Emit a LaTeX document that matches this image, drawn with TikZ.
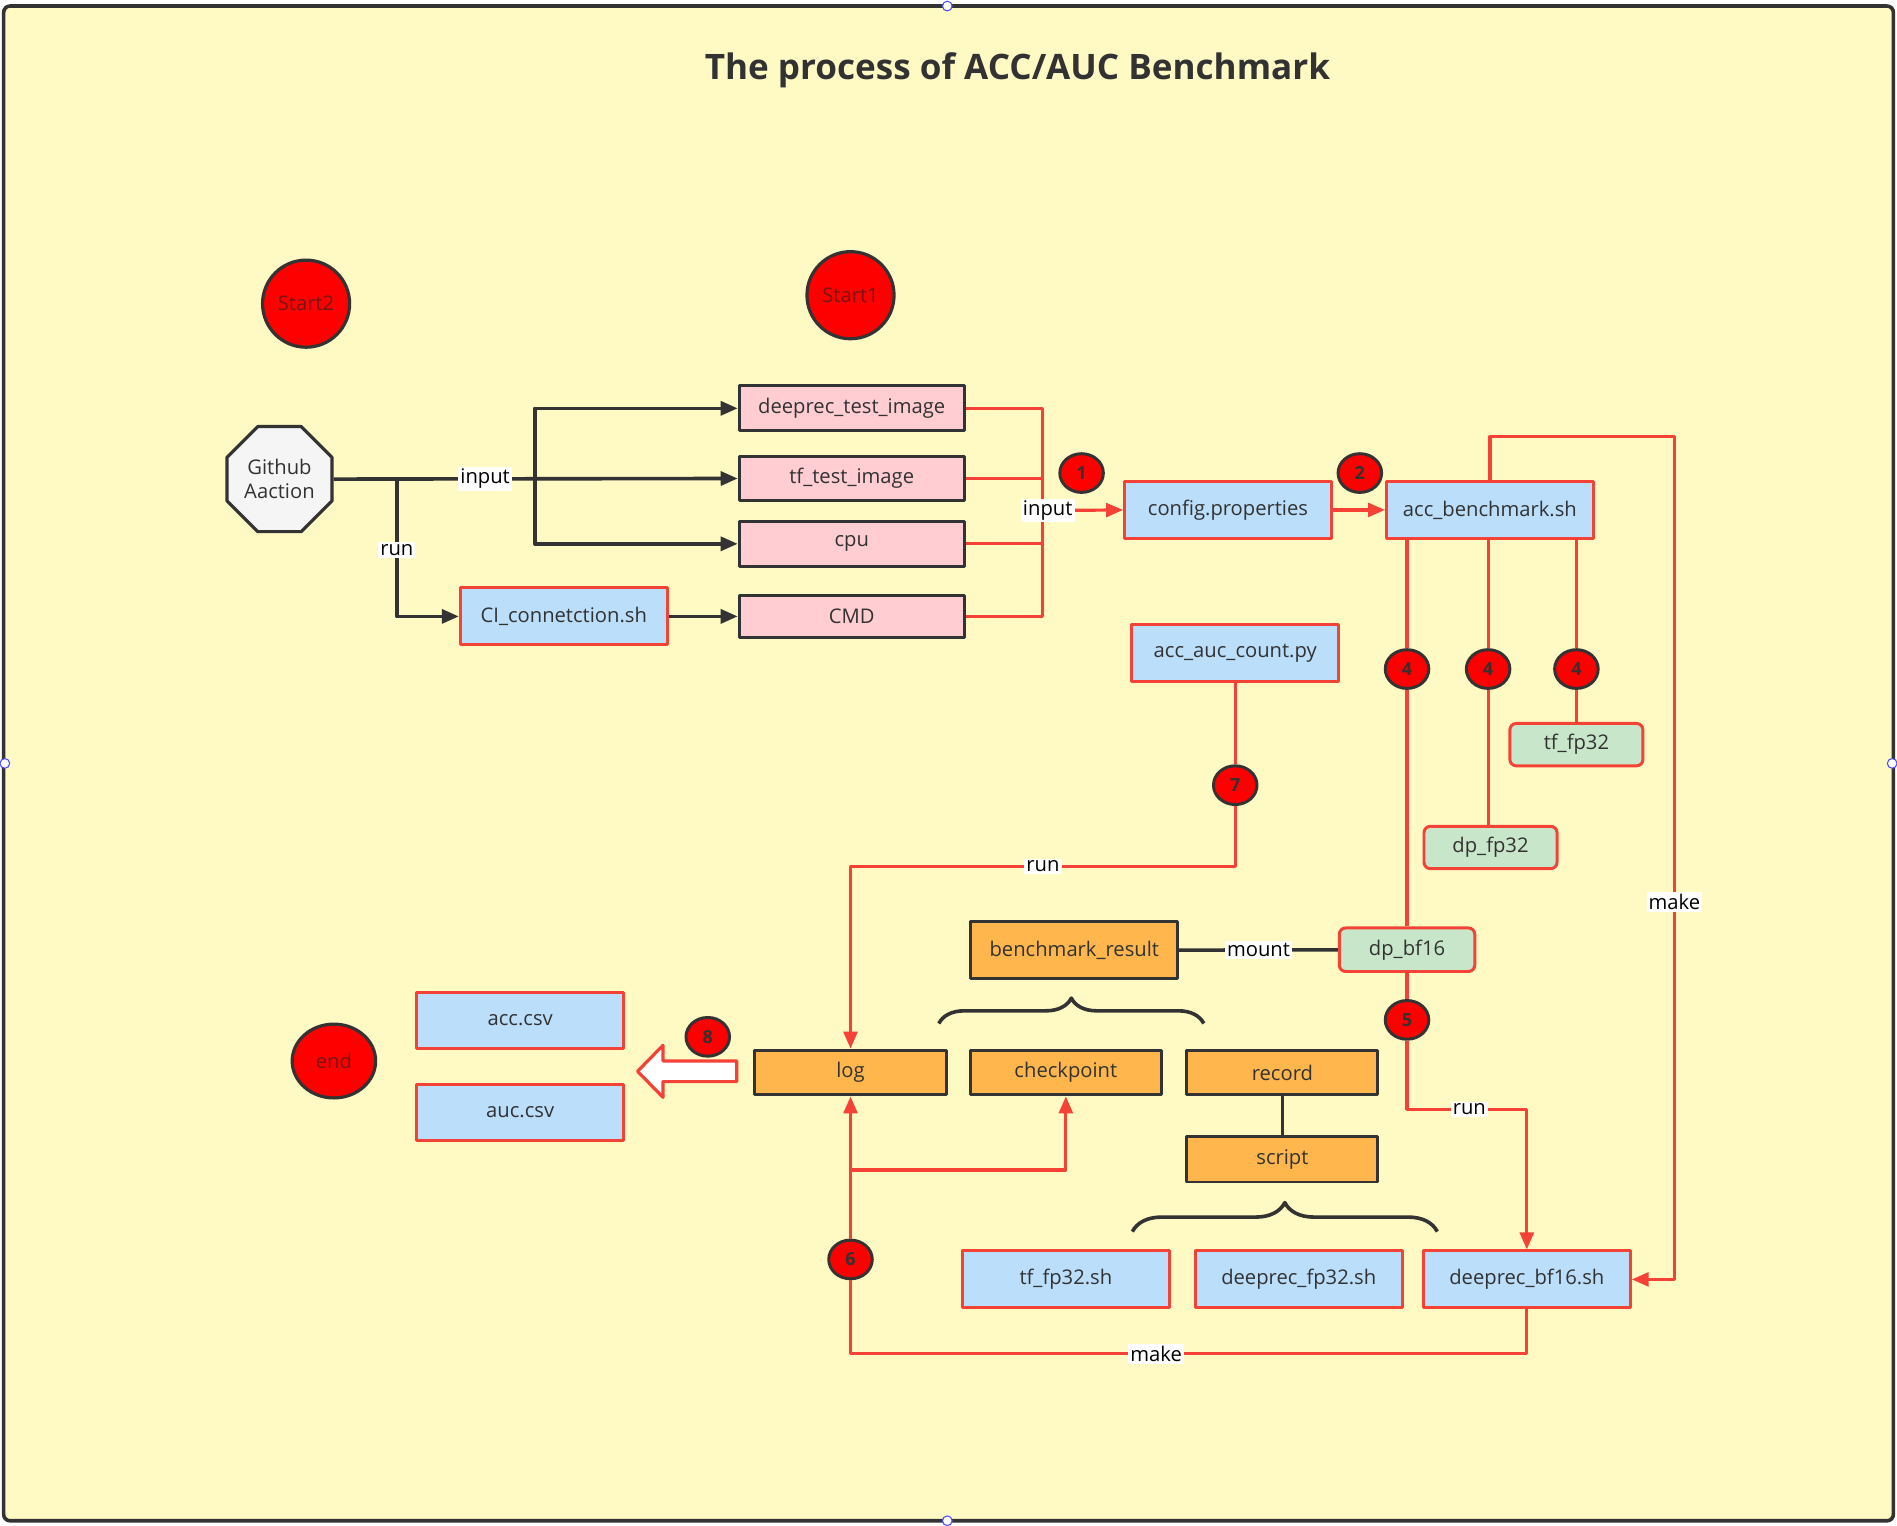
\documentclass[tikz,border=0pt]{standalone}
\usepackage{fontspec}
\setmainfont{Open Sans}
\usetikzlibrary{arrows.meta,shapes.geometric,decorations.pathreplacing,positioning}

\definecolor{bgyellow}{RGB}{255,249,196}
\definecolor{linered}{RGB}{244,67,54}
\definecolor{darkline}{RGB}{51,51,51}
\definecolor{boxblue}{RGB}{187,222,251}
\definecolor{boxpink}{RGB}{255,205,210}
\definecolor{boxgreen}{RGB}{200,230,201}
\definecolor{boxorange}{RGB}{255,183,77}
\definecolor{octgray}{RGB}{245,245,245}
\definecolor{txt}{RGB}{50,50,50}

\tikzset{
  base/.style={draw, line width=1.4pt, inner sep=0pt, text=txt, font=\fontsize{9.5}{11}\selectfont},
  imgbox/.style={base, draw=darkline, fill=boxpink, minimum width=3.72cm, minimum height=0.74cm},
  filebox/.style={base, draw=linered, fill=boxblue, minimum width=3.42cm, minimum height=0.94cm},
  typebox/.style={base, draw=linered, fill=boxgreen, rounded corners=3pt, minimum width=2.2cm, minimum height=0.7cm},
  dirbox/.style={base, draw=darkline, fill=boxorange, minimum width=3.16cm, minimum height=0.74cm},
  badge/.style={ellipse, draw=darkline, fill=red, line width=1.4pt, inner sep=0pt, minimum width=0.72cm, minimum height=0.64cm, font=\bfseries\fontsize{8.5}{10}\selectfont, text=txt},
  startdot/.style={circle, draw=darkline, fill=red, line width=1.5pt, minimum size=1.44cm, inner sep=0pt, font=\fontsize{9.5}{11}\selectfont, text={rgb,255:red,120;green,20;blue,20}},
  blk/.style={draw=darkline, line width=1.7pt},
  redl/.style={draw=linered, line width=1.5pt},
  tip/.style={-{Triangle[length=8pt,width=6.5pt]}},
  tag/.style={fill=white, inner sep=1pt, text=black, font=\fontsize{9.5}{11}\selectfont},
}

\begin{document}
\begin{tikzpicture}[x=0.02cm,y=-0.02cm,line join=round]
  \useasboundingbox (0,0) rectangle (1568,1261);
  \fill[white] (0,0) rectangle (1568,1261);
  % frame
  \draw[darkline, line width=1.7pt, fill=bgyellow, rounded corners=3pt] (3,5) rectangle (1565,1257);
  \foreach \x/\y in {783/5, 783/1257, 4/631, 1564/631}
    \draw[blue!70, fill=white, line width=0.5pt] (\x,\y) circle (4);
  \node[font=\bfseries\fontsize{16.5}{20}\selectfont, text=txt] (title) at (841,58) {The process of ACC/AUC Benchmark};

  % start / end marks
  \node[startdot] (start2) at (253,251) {Start2};
  \node[startdot] (start1) at (703,244) {Start1};
  \node[startdot, ellipse, minimum width=1.38cm, minimum height=1.22cm] (end) at (276,877) {end};

  % trigger and inputs
  \node[regular polygon, regular polygon sides=8, draw=darkline, fill=octgray, line width=1.5pt,
        minimum size=1.88cm, inner sep=0pt, align=center, text=txt, font=\fontsize{9.5}{11}\selectfont] (gh) at (231,396) {Github\\Aaction};
  \node[imgbox] (deepimg) at (704,337.5) {deeprec\_test\_image};
  \node[imgbox] (tfimg) at (704,395.5) {tf\_test\_image};
  \node[imgbox] (cpu) at (704,449.5) {cpu};
  \node[imgbox, minimum height=0.7cm] (cmd) at (704,509.5) {CMD};
  \node[filebox] (ci) at (466,509.5) {CI\_connetction.sh};

  % scripts
  \node[filebox] (config) at (1015,421.5) {config.properties};
  \node[filebox] (accbench) at (1231.5,421.5) {acc\_benchmark.sh};
  \node[filebox] (auccount) at (1021,540) {acc\_auc\_count.py};
  \node[typebox] (tffp32) at (1303,615.5) {tf\_fp32};
  \node[typebox] (dpfp32) at (1232,700.5) {dp\_fp32};
  \node[typebox, minimum width=2.24cm, minimum height=0.72cm] (dpbf16) at (1163,785) {dp\_bf16};

  % result folder
  \node[dirbox, minimum width=3.42cm, minimum height=0.94cm] (benchres) at (888,785.5) {benchmark\_result};
  \node[dirbox] (log) at (703,886.5) {log};
  \node[dirbox] (checkpoint) at (881,886.5) {checkpoint};
  \node[dirbox] (record) at (1060,886.5) {record};
  \node[dirbox, minimum height=0.76cm] (script) at (1060,958) {script};
  \node[filebox] (tfsh) at (881,1057.5) {tf\_fp32.sh};
  \node[filebox] (dpsh) at (1073.5,1057.5) {deeprec\_fp32.sh};
  \node[filebox] (bf16sh) at (1262,1057.5) {deeprec\_bf16.sh};
  \node[filebox] (acccsv) at (430,843.5) {acc.csv};
  \node[filebox] (auccsv) at (430,919.5) {auc.csv};

  % step numbers
  \foreach \n/\x/\y/\t in {b1/894/391/1, b2/1124/391/2, b4a/1163/553/4, b4b/1230/553/4, b4c/1303/553/4,
        b5/1163/843/5, b6/703/1041/6, b7/1021/649/7, b8/585/857/8}
    \node[badge] (\n) at (\x,\y) {\t};

  % black connectors
  \coordinate (split) at (442,395.5);
  \coordinate (runsplit) at (328,395.5);
  \draw[blk, tip] (gh.east) -- node[tag, pos=0.375] {input} (tfimg.west);
  \draw[blk, tip] (split) |- (deepimg.west);
  \draw[blk, tip] (split) |- (cpu.west);
  \draw[blk, tip] (runsplit) |- node[tag, pos=0.26] {run} (ci.west);
  \draw[blk, tip] (ci) -- (cmd);
  \draw[blk] (benchres) -- node[tag] {mount} (dpbf16);
  \draw[blk] (record) -- (script);
  \draw[blk, decorate, decoration={brace, amplitude=0.42cm}] (776,846) -- (995,846);
  \draw[blk, decorate, decoration={brace, amplitude=0.48cm}] (936,1018) -- (1188,1018);

  % red connectors
  \coordinate (bus) at (862,422);
  \foreach \n in {deepimg,tfimg,cpu,cmd}
    \draw[redl] (\n.east) -| (bus);
  \draw[redl, tip] (bus) -- node[tag, pos=0.06] {input} (config.west);
  \draw[redl, tip] (config) -- (accbench);
  \coordinate (mk) at (1384,361);
  \draw[redl, tip] (accbench.north) |- (mk) |- node[tag, pos=0.276] {make} (bf16sh.east);
  \draw[redl] (b4a |- accbench.south) -- (b4a.north);
  \draw[redl] (b4a.south) -- (dpbf16.north);
  \draw[redl] (b4b |- accbench.south) -- (b4b.north);
  \draw[redl] (b4b.south) -- (b4b |- dpfp32.north);
  \draw[redl] (b4c |- accbench.south) -- (b4c.north);
  \draw[redl] (b4c.south) -- (tffp32.north);
  \draw[redl] (auccount.south) -- (b7.north);
  \coordinate (runturn) at (1021,716);
  \draw[redl, tip] (b7.south) -- (runturn) -| node[tag, pos=0.25] {run} (log.north);
  \draw[redl] (dpbf16.south) -- (b5.north);
  \coordinate (runturn2) at (1163,917);
  \draw[redl, tip] (b5.south) -- (runturn2) -| node[tag, pos=0.26] {run} (bf16sh.north);
  \coordinate (mkbot) at (1262,1119);
  \draw[redl] (bf16sh.south) -- (mkbot) -| node[tag, pos=0.274] {make} (b6.south);
  \draw[redl, tip] (b6.north) -- (log.south);
  \coordinate (ckturn) at (703,967);
  \draw[redl, tip] (ckturn) -| (checkpoint.south);

  % hollow output arrow
  \draw[linered, line width=1.5pt, fill=white] (609,877) -- (548,877) -- (548,864) -- (527,885.5)
    -- (548,907) -- (548,894) -- (609,894) -- cycle;
\end{tikzpicture}
\end{document}
